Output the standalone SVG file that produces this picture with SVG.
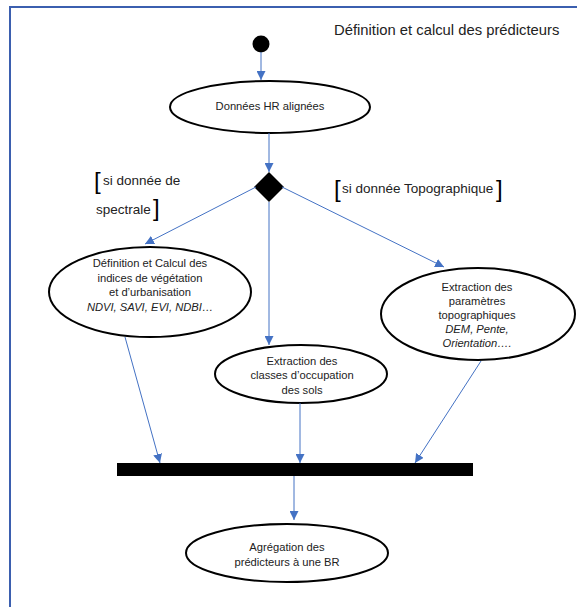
<svg xmlns="http://www.w3.org/2000/svg" width="577" height="607" viewBox="0 0 577 607">
<style>
text{font-family:"Liberation Sans",Arial,sans-serif;fill:#222;}
.n{font-size:11.2px;text-anchor:middle;}
.i{font-style:italic;}
.lbl{font-size:13.5px;}
.br{font-size:24px;fill:#000;}
.node ellipse{fill:#fff;stroke:#000;stroke-width:2;}
.conn line{stroke:#4472C4;stroke-width:1;}
</style>
<defs>
<marker id="ah" viewBox="0 0 10 10" refX="10" refY="5" markerWidth="9" markerHeight="9" markerUnits="userSpaceOnUse" orient="auto">
<path d="M0,0 L10,5 L0,10 Z" fill="#4472C4"/>
</marker>
</defs>
<rect x="10" y="7" width="600" height="620" fill="none" stroke="#3B5FAF" stroke-width="2"/>
<text id="title" x="334" y="35" style="font-size:14.8px">Définition et calcul des prédicteurs</text>
<g id="start"><circle cx="261" cy="44" r="8.5" fill="#000"/></g>
<g id="n1" class="node"><ellipse cx="270" cy="107" rx="100" ry="26"/><text class="n" x="270" y="110">Données HR alignées</text></g>
<g id="decision"><polygon points="269,172 284,187 269,202 254,187" fill="#000"/></g>
<g id="n2" class="node"><ellipse cx="150" cy="292" rx="101" ry="45"/>
<text class="n" x="150" y="267">Définition et Calcul des</text>
<text class="n" x="150" y="282">indices de végétation</text>
<text class="n" x="150" y="296">et d’urbanisation</text>
<text class="n i" x="150" y="311">NDVI, SAVI, EVI, NDBI…</text></g>
<g id="n3" class="node"><ellipse cx="478" cy="314" rx="97" ry="46"/>
<text class="n" x="477" y="291">Extraction des</text>
<text class="n" x="477" y="305">paramètres</text>
<text class="n" x="477" y="319">topographiques</text>
<text class="n i" x="477" y="333">DEM, Pente,</text>
<text class="n i" x="477" y="347">Orientation….</text></g>
<g id="n4" class="node"><ellipse cx="301" cy="374" rx="86" ry="29"/>
<text class="n" x="302" y="365">Extraction des</text>
<text class="n" x="302" y="379">classes d’occupation</text>
<text class="n" x="302" y="394">des sols</text></g>
<g id="join"><rect x="117" y="463" width="356" height="13" fill="#000"/></g>
<g id="n5" class="node"><ellipse cx="287" cy="553" rx="101" ry="29"/>
<text class="n" x="287" y="551">Agrégation des</text>
<text class="n" x="287" y="566">prédicteurs à une BR</text></g>
<g id="guards">
<text class="br" x="94" y="189">[</text><text class="lbl" x="103" y="185">si donnée de</text>
<text class="lbl" x="96" y="214">spectrale</text><text class="br" x="153" y="216">]</text>
<text class="br" x="334" y="197">[</text><text class="lbl" x="342" y="193">si donnée Topographique</text><text class="br" x="496" y="197">]</text>
</g>
<g class="conn">
<line x1="261" y1="52" x2="261" y2="80" marker-end="url(#ah)"/>
<line x1="269" y1="133" x2="269" y2="172" marker-end="url(#ah)"/>
<line x1="256" y1="187" x2="145" y2="244" marker-end="url(#ah)"/>
<line x1="282" y1="187" x2="444" y2="267" marker-end="url(#ah)"/>
<line x1="269" y1="202" x2="269" y2="345" marker-end="url(#ah)"/>
<line x1="125" y1="337" x2="160" y2="463" marker-end="url(#ah)"/>
<line x1="300" y1="403" x2="300" y2="463" marker-end="url(#ah)"/>
<line x1="481" y1="361" x2="415" y2="463" marker-end="url(#ah)"/>
<line x1="294" y1="476" x2="294" y2="520" marker-end="url(#ah)"/>
</g>
</svg>
